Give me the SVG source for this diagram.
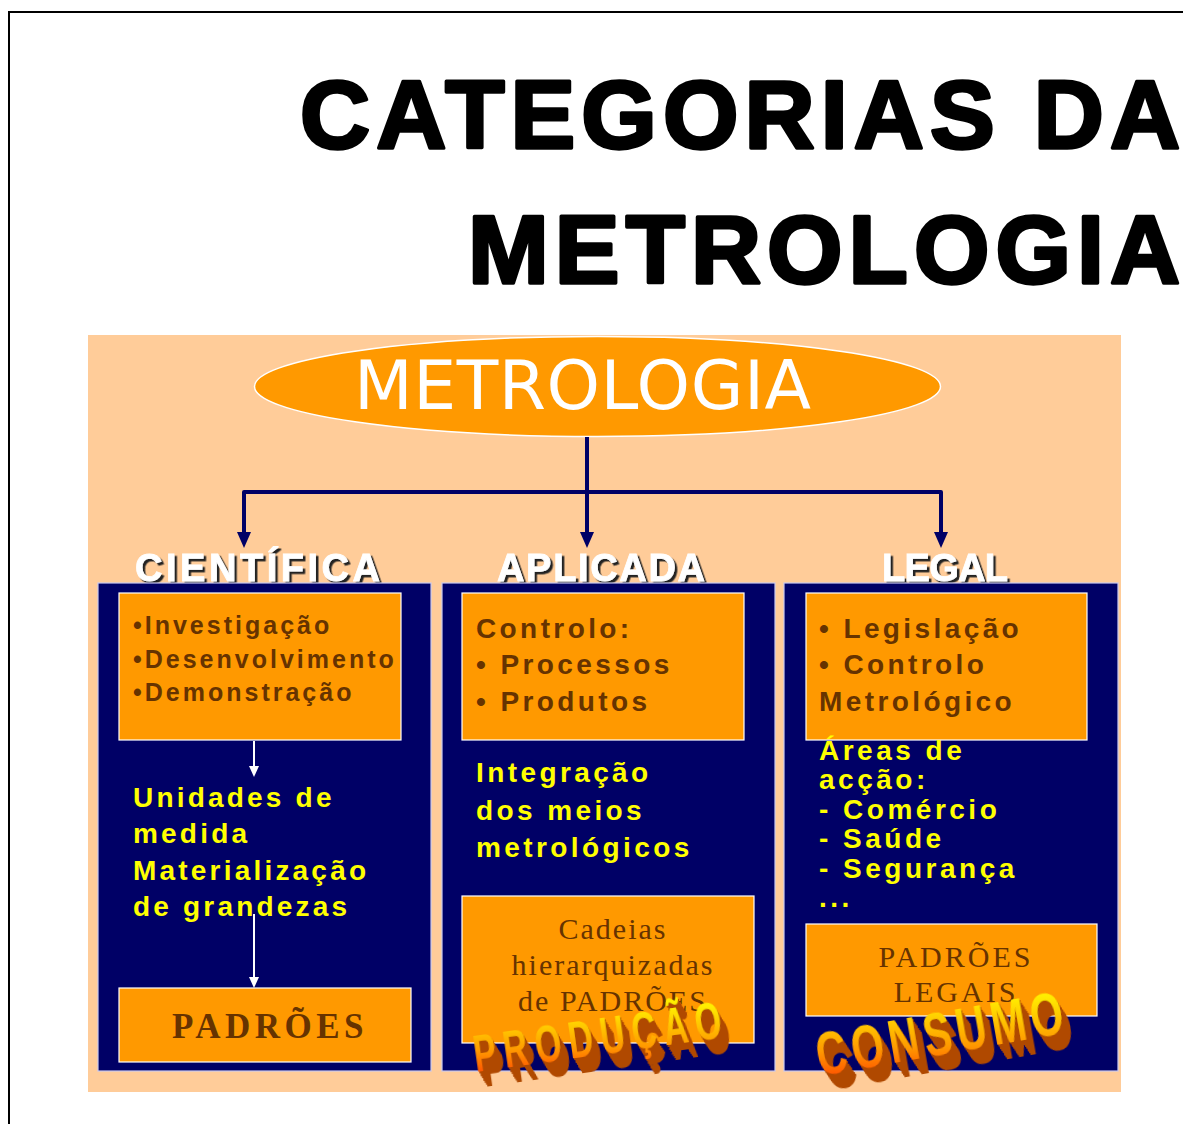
<svg xmlns="http://www.w3.org/2000/svg" width="1183" height="1124" viewBox="0 0 1183 1124">
<defs>
<style>
.title{font-family:"Liberation Sans",Arial,sans-serif;font-weight:bold;font-size:97px;fill:#000;stroke:#000;stroke-width:3.5;stroke-linejoin:round}
.col{fill:#000066;stroke:#C8C8F0;stroke-width:1.2}
.obox{fill:#FF9900;stroke:#FFFFFF;stroke-width:1.2}
.lbl{font-family:"Liberation Sans",Arial,sans-serif;font-weight:bold;font-size:38px;fill:#FFFFFF;stroke:#FFFFFF;stroke-width:0.8;filter:url(#shadow)}
.brown{font-family:"Liberation Sans",Arial,sans-serif;font-weight:bold;font-size:28px;fill:#663300;letter-spacing:3.4px}
.brown25{font-family:"Liberation Sans",Arial,sans-serif;font-weight:bold;font-size:25px;fill:#663300;letter-spacing:3px}
.yel{font-family:"Liberation Sans",Arial,sans-serif;font-weight:bold;font-size:28px;fill:#FFFF00;letter-spacing:3.4px}
.serif{font-family:"Liberation Serif","Times New Roman",serif;font-size:30px;fill:#663300;text-anchor:middle}
.word{font-family:"Liberation Sans",Arial,sans-serif;font-weight:bold;fill:url(#wordgrad);filter:url(#extrude)}
.nav{fill:none;stroke:#000066;stroke-width:4;stroke-linejoin:round}
.wht{fill:none;stroke:#FFFFFF;stroke-width:2}
</style>
<filter id="shadow" x="-10%" y="-20%" width="130%" height="150%">
<feDropShadow dx="2.5" dy="2.5" stdDeviation="0" flood-color="#222222" flood-opacity="1"/>
</filter>
<filter id="extrude" x="-10%" y="-30%" width="130%" height="190%">
<feOffset in="SourceAlpha" dx="1" dy="1.6" result="o1"/>
<feOffset in="SourceAlpha" dx="2" dy="3.2" result="o2"/>
<feOffset in="SourceAlpha" dx="3" dy="4.8" result="o3"/>
<feOffset in="SourceAlpha" dx="4" dy="6.4" result="o4"/>
<feOffset in="SourceAlpha" dx="5" dy="8" result="o5"/>
<feOffset in="SourceAlpha" dx="6" dy="9.6" result="o6"/>
<feOffset in="SourceAlpha" dx="7" dy="11" result="o7"/>
<feMerge result="ext"><feMergeNode in="o1"/><feMergeNode in="o2"/><feMergeNode in="o3"/><feMergeNode in="o4"/><feMergeNode in="o5"/><feMergeNode in="o6"/><feMergeNode in="o7"/></feMerge>
<feFlood flood-color="#B04800" result="fl"/>
<feComposite in="fl" in2="ext" operator="in" result="col"/>
<feMerge><feMergeNode in="col"/><feMergeNode in="SourceGraphic"/></feMerge>
</filter>
<linearGradient id="wordgrad" x1="0" y1="1" x2="0.5" y2="0">
<stop offset="0" stop-color="#FF3300"/>
<stop offset="0.45" stop-color="#FF9900"/>
<stop offset="1" stop-color="#FFEE00"/>
</linearGradient>
<marker id="navArrow" viewBox="0 0 16 14" markerWidth="16" markerHeight="14" refX="3" refY="7" orient="auto" markerUnits="userSpaceOnUse">
<path d="M0,0 L16,7 L0,14 z" fill="#000066"/>
</marker>
<marker id="whtArrow" viewBox="0 0 11 10" markerWidth="11" markerHeight="10" refX="1" refY="5" orient="auto" markerUnits="userSpaceOnUse">
<path d="M0,0 L11,5 L0,10 z" fill="#FFFFFF"/>
</marker>
</defs>
<rect x="0" y="0" width="1183" height="1124" fill="#FFFFFF"/>
<path d="M9,1124 V12 H1183" fill="none" stroke="#000" stroke-width="2"/>
<g id="title">
<text class="title" x="300" y="148" textLength="880" lengthAdjust="spacing">CATEGORIAS DA</text>
<text class="title" x="468" y="283" textLength="712" lengthAdjust="spacing">METROLOGIA</text>
</g>
<rect x="88" y="335" width="1033" height="757" fill="#FFCC99"/>
<g id="metrologia">
<ellipse cx="597.5" cy="386.5" rx="343" ry="50" fill="#FF9900" stroke="#FFFFFF" stroke-width="1.5"/>
<text x="354" y="409" font-family="DejaVu Sans, Verdana, sans-serif" font-size="68" fill="#FFFFFF" textLength="457" lengthAdjust="spacing">METROLOGIA</text>
</g>
<g id="cientifica">
<text class="lbl" x="135" y="581" textLength="245" lengthAdjust="spacing">CIENTÍFICA</text>
<rect class="col" x="98" y="583" width="333" height="488"/>
<rect class="obox" x="119" y="593" width="282" height="147"/>
<text class="brown25" x="133" y="634">•Investigação</text>
<text class="brown25" x="133" y="668">•Desenvolvimento</text>
<text class="brown25" x="133" y="701">•Demonstração</text>
<text class="yel" x="133" y="807" style="letter-spacing:3.2px">Unidades de</text>
<text class="yel" x="133" y="843" style="letter-spacing:3.2px">medida</text>
<text class="yel" x="133" y="880" style="letter-spacing:3.2px">Materialização</text>
<text class="yel" x="133" y="916" style="letter-spacing:3.2px">de grandezas</text>
<rect class="obox" x="119" y="988" width="292" height="74"/>
<text x="270" y="1038" font-family="Liberation Serif, Times New Roman, serif" font-weight="bold" font-size="35" fill="#663300" text-anchor="middle" letter-spacing="4.5">PADRÕES</text>
</g>
<g id="aplicada">
<text class="lbl" x="497" y="581" textLength="208" lengthAdjust="spacing">APLICADA</text>
<rect class="col" x="442" y="583" width="333" height="488"/>
<rect class="obox" x="462" y="593" width="282" height="147"/>
<text class="brown" x="476" y="638">Controlo:</text>
<text class="brown" x="476" y="674">• Processos</text>
<text class="brown" x="476" y="711">• Produtos</text>
<text class="yel" x="476" y="782">Integração</text>
<text class="yel" x="476" y="820">dos meios</text>
<text class="yel" x="476" y="857">metrológicos</text>
<rect class="obox" x="462" y="896" width="292" height="147"/>
<text class="serif" x="613" y="939" letter-spacing="2">Cadeias</text>
<text class="serif" x="613" y="975" letter-spacing="2">hierarquizadas</text>
<text class="serif" x="613" y="1011" letter-spacing="2">de PADRÕES</text>
<text class="word" transform="translate(476,1072) rotate(-8) scale(1,1.5)" font-size="34" textLength="250" lengthAdjust="spacing">PRODUÇÃO</text>
</g>
<g id="legal">
<text class="lbl" x="882" y="581" textLength="126" lengthAdjust="spacing">LEGAL</text>
<rect class="col" x="784" y="583" width="334" height="488"/>
<rect class="obox" x="806" y="593" width="281" height="147"/>
<text class="brown" x="819" y="638">• Legislação</text>
<text class="brown" x="819" y="674">• Controlo</text>
<text class="brown" x="819" y="711">Metrológico</text>
<text class="yel" x="819" y="760" style="letter-spacing:3.5px">Áreas de</text>
<text class="yel" x="819" y="789" style="letter-spacing:3.5px">acção:</text>
<text class="yel" x="819" y="819" style="letter-spacing:3.5px">- Comércio</text>
<text class="yel" x="819" y="848" style="letter-spacing:3.5px">- Saúde</text>
<text class="yel" x="819" y="878" style="letter-spacing:3.5px">- Segurança</text>
<text class="yel" x="819" y="907" style="letter-spacing:3.5px">...</text>
<rect class="obox" x="806" y="924" width="291" height="92"/>
<text class="serif" x="956" y="967" letter-spacing="3">PADRÕES</text>
<text class="serif" x="956" y="1002" letter-spacing="3">LEGAIS</text>
<text class="word" transform="translate(820,1076) rotate(-10) scale(1,1.45)" font-size="42" textLength="250" lengthAdjust="spacing">CONSUMO</text>
</g>
<g id="connectors">
<path class="nav" d="M587,437 V535" marker-end="url(#navArrow)"/>
<path class="nav" d="M587,492 H244 V535" marker-end="url(#navArrow)"/>
<path class="nav" d="M587,492 H941 V535" marker-end="url(#navArrow)"/>
<path class="wht" d="M254,741 V767" marker-end="url(#whtArrow)"/>
<path class="wht" d="M254,914 V978" marker-end="url(#whtArrow)"/>
</g>
</svg>
